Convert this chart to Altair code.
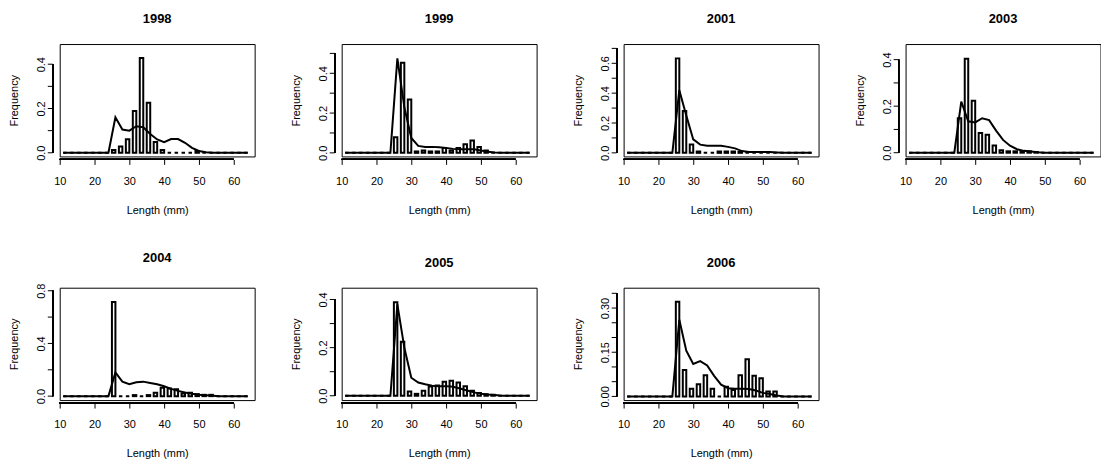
import altair as alt
import pandas as pd

YEARS = ["1998", "1999", "2001", "2003", "2004", "2005", "2006"]

BAR_X = [11, 13, 15, 17, 19, 21, 23, 25, 27, 29, 31, 33, 35, 37, 39, 41, 43, 45, 47, 49, 51, 53, 55, 57, 59, 61, 63]

BARS_1998 = [0, 0, 0, 0, 0, 0, 0, 0.012, 0.028, 0.061, 0.189, 0.428, 0.226, 0.049, 0.012, 0, 0, 0, 0, 0.008, 0, 0, 0, 0, 0, 0, 0]
BARS_1999 = [0, 0, 0, 0, 0, 0, 0, 0.078, 0.453, 0.268, 0.007, 0.012, 0.007, 0.007, 0.025, 0.012, 0.025, 0.043, 0.062, 0.030, 0.012, 0, 0, 0, 0, 0, 0]
BARS_2001 = [0, 0, 0, 0, 0, 0, 0, 0.633, 0.280, 0.056, 0.009, 0, 0, 0.009, 0.009, 0.009, 0.006, 0, 0, 0, 0, 0, 0, 0, 0, 0, 0]
BARS_2003 = [0, 0, 0, 0, 0, 0, 0, 0.148, 0.404, 0.223, 0.085, 0.077, 0.031, 0.011, 0.006, 0.006, 0.006, 0.006, 0.003, 0, 0, 0, 0, 0, 0, 0, 0]
BARS_2004 = [0, 0, 0, 0, 0, 0, 0, 0.715, 0, 0, 0.008, 0, 0.008, 0.025, 0.063, 0.058, 0.053, 0.020, 0.025, 0.015, 0.010, 0.010, 0, 0, 0, 0, 0]
BARS_2005 = [0, 0, 0, 0, 0, 0, 0, 0.389, 0.224, 0.018, 0.008, 0.021, 0.038, 0.043, 0.058, 0.062, 0.055, 0.040, 0.021, 0.011, 0.006, 0.004, 0, 0, 0, 0, 0]
BARS_2006 = [0, 0, 0, 0, 0, 0, 0, 0.321, 0.090, 0.026, 0.041, 0.072, 0.026, 0, 0.033, 0.022, 0.072, 0.126, 0.070, 0.062, 0.017, 0.017, 0, 0, 0, 0, 0]

LINE_X = [11, 12, 14, 16, 18, 20, 22, 24, 26, 28, 30, 32, 34, 36, 38, 40, 42, 44, 46, 48, 50, 52, 54, 56, 58, 60, 62, 64]

LINE_1998 = [0, 0, 0, 0, 0, 0, 0, 0, 0.160, 0.105, 0.100, 0.120, 0.115, 0.085, 0.060, 0.048, 0.062, 0.062, 0.045, 0.022, 0.008, 0.002, 0, 0, 0, 0, 0, 0]
LINE_1999 = [0, 0, 0, 0, 0, 0, 0, 0, 0.475, 0.230, 0.075, 0.035, 0.030, 0.030, 0.028, 0.025, 0.020, 0.018, 0.018, 0.018, 0.012, 0.005, 0.002, 0, 0, 0, 0, 0]
LINE_2001 = [0, 0, 0, 0, 0, 0, 0, 0, 0.420, 0.250, 0.090, 0.055, 0.047, 0.047, 0.047, 0.040, 0.030, 0.012, 0.006, 0.006, 0.006, 0.006, 0.003, 0, 0, 0, 0, 0]
LINE_2003 = [0, 0, 0, 0, 0, 0, 0, 0, 0.220, 0.135, 0.130, 0.148, 0.140, 0.095, 0.055, 0.030, 0.015, 0.008, 0.005, 0.002, 0, 0, 0, 0, 0, 0, 0, 0]
LINE_2004 = [0, 0, 0, 0, 0, 0, 0, 0, 0.180, 0.110, 0.090, 0.105, 0.110, 0.100, 0.090, 0.075, 0.055, 0.040, 0.028, 0.018, 0.010, 0.006, 0.003, 0, 0, 0, 0, 0]
LINE_2005 = [0, 0, 0, 0, 0, 0, 0, 0, 0.380, 0.200, 0.075, 0.055, 0.048, 0.042, 0.040, 0.040, 0.037, 0.030, 0.022, 0.014, 0.008, 0.005, 0.003, 0, 0, 0, 0, 0]
LINE_2006 = [0, 0, 0, 0, 0, 0, 0, 0, 0.260, 0.155, 0.110, 0.120, 0.105, 0.070, 0.040, 0.028, 0.026, 0.026, 0.025, 0.020, 0.012, 0.008, 0.003, 0, 0, 0, 0, 0]

BARS = [BARS_1998, BARS_1999, BARS_2001, BARS_2003, BARS_2004, BARS_2005, BARS_2006]
LINES = [LINE_1998, LINE_1999, LINE_2001, LINE_2003, LINE_2004, LINE_2005, LINE_2006]

# y-axis tick positions and the labelled subset
Y_TICKS = [
    [0, 0.1, 0.2, 0.3, 0.4],
    [0, 0.1, 0.2, 0.3, 0.4, 0.5],
    [0, 0.1, 0.2, 0.3, 0.4, 0.5, 0.6, 0.7],
    [0, 0.1, 0.2, 0.3, 0.4],
    [0, 0.2, 0.4, 0.6, 0.8],
    [0, 0.1, 0.2, 0.3, 0.4],
    [0, 0.05, 0.1, 0.15, 0.2, 0.25, 0.3, 0.35],
]
Y_LABELS = [
    [0, 0.2, 0.4],
    [0, 0.2, 0.4],
    [0, 0.2, 0.4, 0.6],
    [0, 0.2, 0.4],
    [0, 0.4, 0.8],
    [0, 0.2, 0.4],
    [0, 0.15, 0.3],
]
Y_FMT = [".1f", ".1f", ".1f", ".1f", ".1f", ".1f", ".2f"]
Y_DOMAIN = [
    [-0.0165, 0.491],
    [-0.018, 0.547],
    [-0.024, 0.729],
    [-0.016, 0.467],
    [-0.030, 0.823],
    [-0.018, 0.449],
    [-0.0125, 0.369],
]
X_TICKS = [10, 20, 30, 40, 50, 60]

W, H = 196, 113
XOFF, YOFF = 3, 7
FONT = "Liberation Sans"


def panel(i):
    bars = pd.DataFrame({"x": BAR_X, "x2": [b + 1 for b in BAR_X],
                         "y0": [0] * len(BAR_X), "y": BARS[i]})
    line = pd.DataFrame({"x": LINE_X, "y": LINES[i]})
    ticks = pd.DataFrame({"v": Y_TICKS[i]})
    xs = alt.Scale(domain=[10, 66], nice=False, zero=False)
    ys = alt.Scale(domain=Y_DOMAIN[i], nice=False, zero=False)
    xaxis = alt.Axis(values=X_TICKS, domain=False, tickSize=5, tickColor="black",
                     tickWidth=1, offset=XOFF, labelFontSize=11, labelColor="black",
                     labelPadding=11, labelOverlap=False, labelFlush=False,
                     labelSeparation=0, labelBound=False,
                     title="Length (mm)", titleFontSize=11,
                     titleFontWeight="normal", titleColor="black", titlePadding=18,
                     grid=False, labelFont=FONT, titleFont=FONT)
    yaxis = alt.Axis(values=Y_LABELS[i], format=Y_FMT[i], domain=False, ticks=False,
                     offset=YOFF + 5, labelFontSize=11, labelColor="black",
                     labelAngle=270, labelAlign="center", labelBaseline="bottom",
                     labelPadding=1, labelOverlap=False, labelFlush=False,
                     labelSeparation=0, labelBound=False,
                     title="Frequency", titleFontSize=11, titleFontWeight="normal",
                     titleColor="black", titlePadding=16, grid=False,
                     labelFont=FONT, titleFont=FONT)
    b = alt.Chart(bars).mark_rect(fill="white", stroke="black", strokeWidth=2).encode(
        x=alt.X("x:Q", scale=xs, axis=xaxis), x2="x2:Q",
        y=alt.Y("y0:Q", scale=ys, axis=yaxis), y2="y:Q")
    l = alt.Chart(line).mark_line(color="black", strokeWidth=2).encode(
        x=alt.X("x:Q", scale=xs, axis=xaxis), y=alt.Y("y:Q", scale=ys, axis=yaxis))
    xl = alt.Chart(line).mark_rule(color="black", strokeWidth=1).encode(
        x=alt.X(datum=X_TICKS[0], type="quantitative", axis=xaxis),
        x2=alt.X2(datum=X_TICKS[-1]), y=alt.value(H + XOFF))
    yl = alt.Chart(line).mark_rule(color="black", strokeWidth=1).encode(
        y=alt.Y(datum=Y_TICKS[i][0], type="quantitative", axis=yaxis),
        y2=alt.Y2(datum=Y_TICKS[i][-1]), x=alt.value(-YOFF))
    yt = alt.Chart(ticks).mark_tick(orient="horizontal", size=5, thickness=1,
                                    color="black", opacity=1).encode(
        y=alt.Y("v:Q", scale=ys, axis=yaxis), x=alt.value(-YOFF - 2.5))
    return alt.layer(b, l, xl, yl, yt).properties(
        width=W, height=H,
        view=alt.ViewBackground(stroke="black", strokeWidth=1),
        title=alt.TitleParams(YEARS[i], fontSize=13, fontWeight="bold", font=FONT,
                              color="black", offset=18, anchor="middle",
                              frame="group"))


panels = [panel(i) for i in range(7)]
row1 = alt.hconcat(*panels[:4], spacing=87.5, bounds="flush")
row2 = alt.hconcat(*panels[4:], spacing=87.5, bounds="flush")
chart = alt.vconcat(row1, row2, spacing=35).properties(
    padding={"left": 0, "top": 3, "right": 0, "bottom": 0}
).configure(
    font=FONT, background="white",
    view=alt.ViewConfig(stroke="black", strokeWidth=1),
    axis=alt.AxisConfig(labelOverlap=False),
)

chart.save("out.html", embed_options={"renderer": "svg", "actions": False})
